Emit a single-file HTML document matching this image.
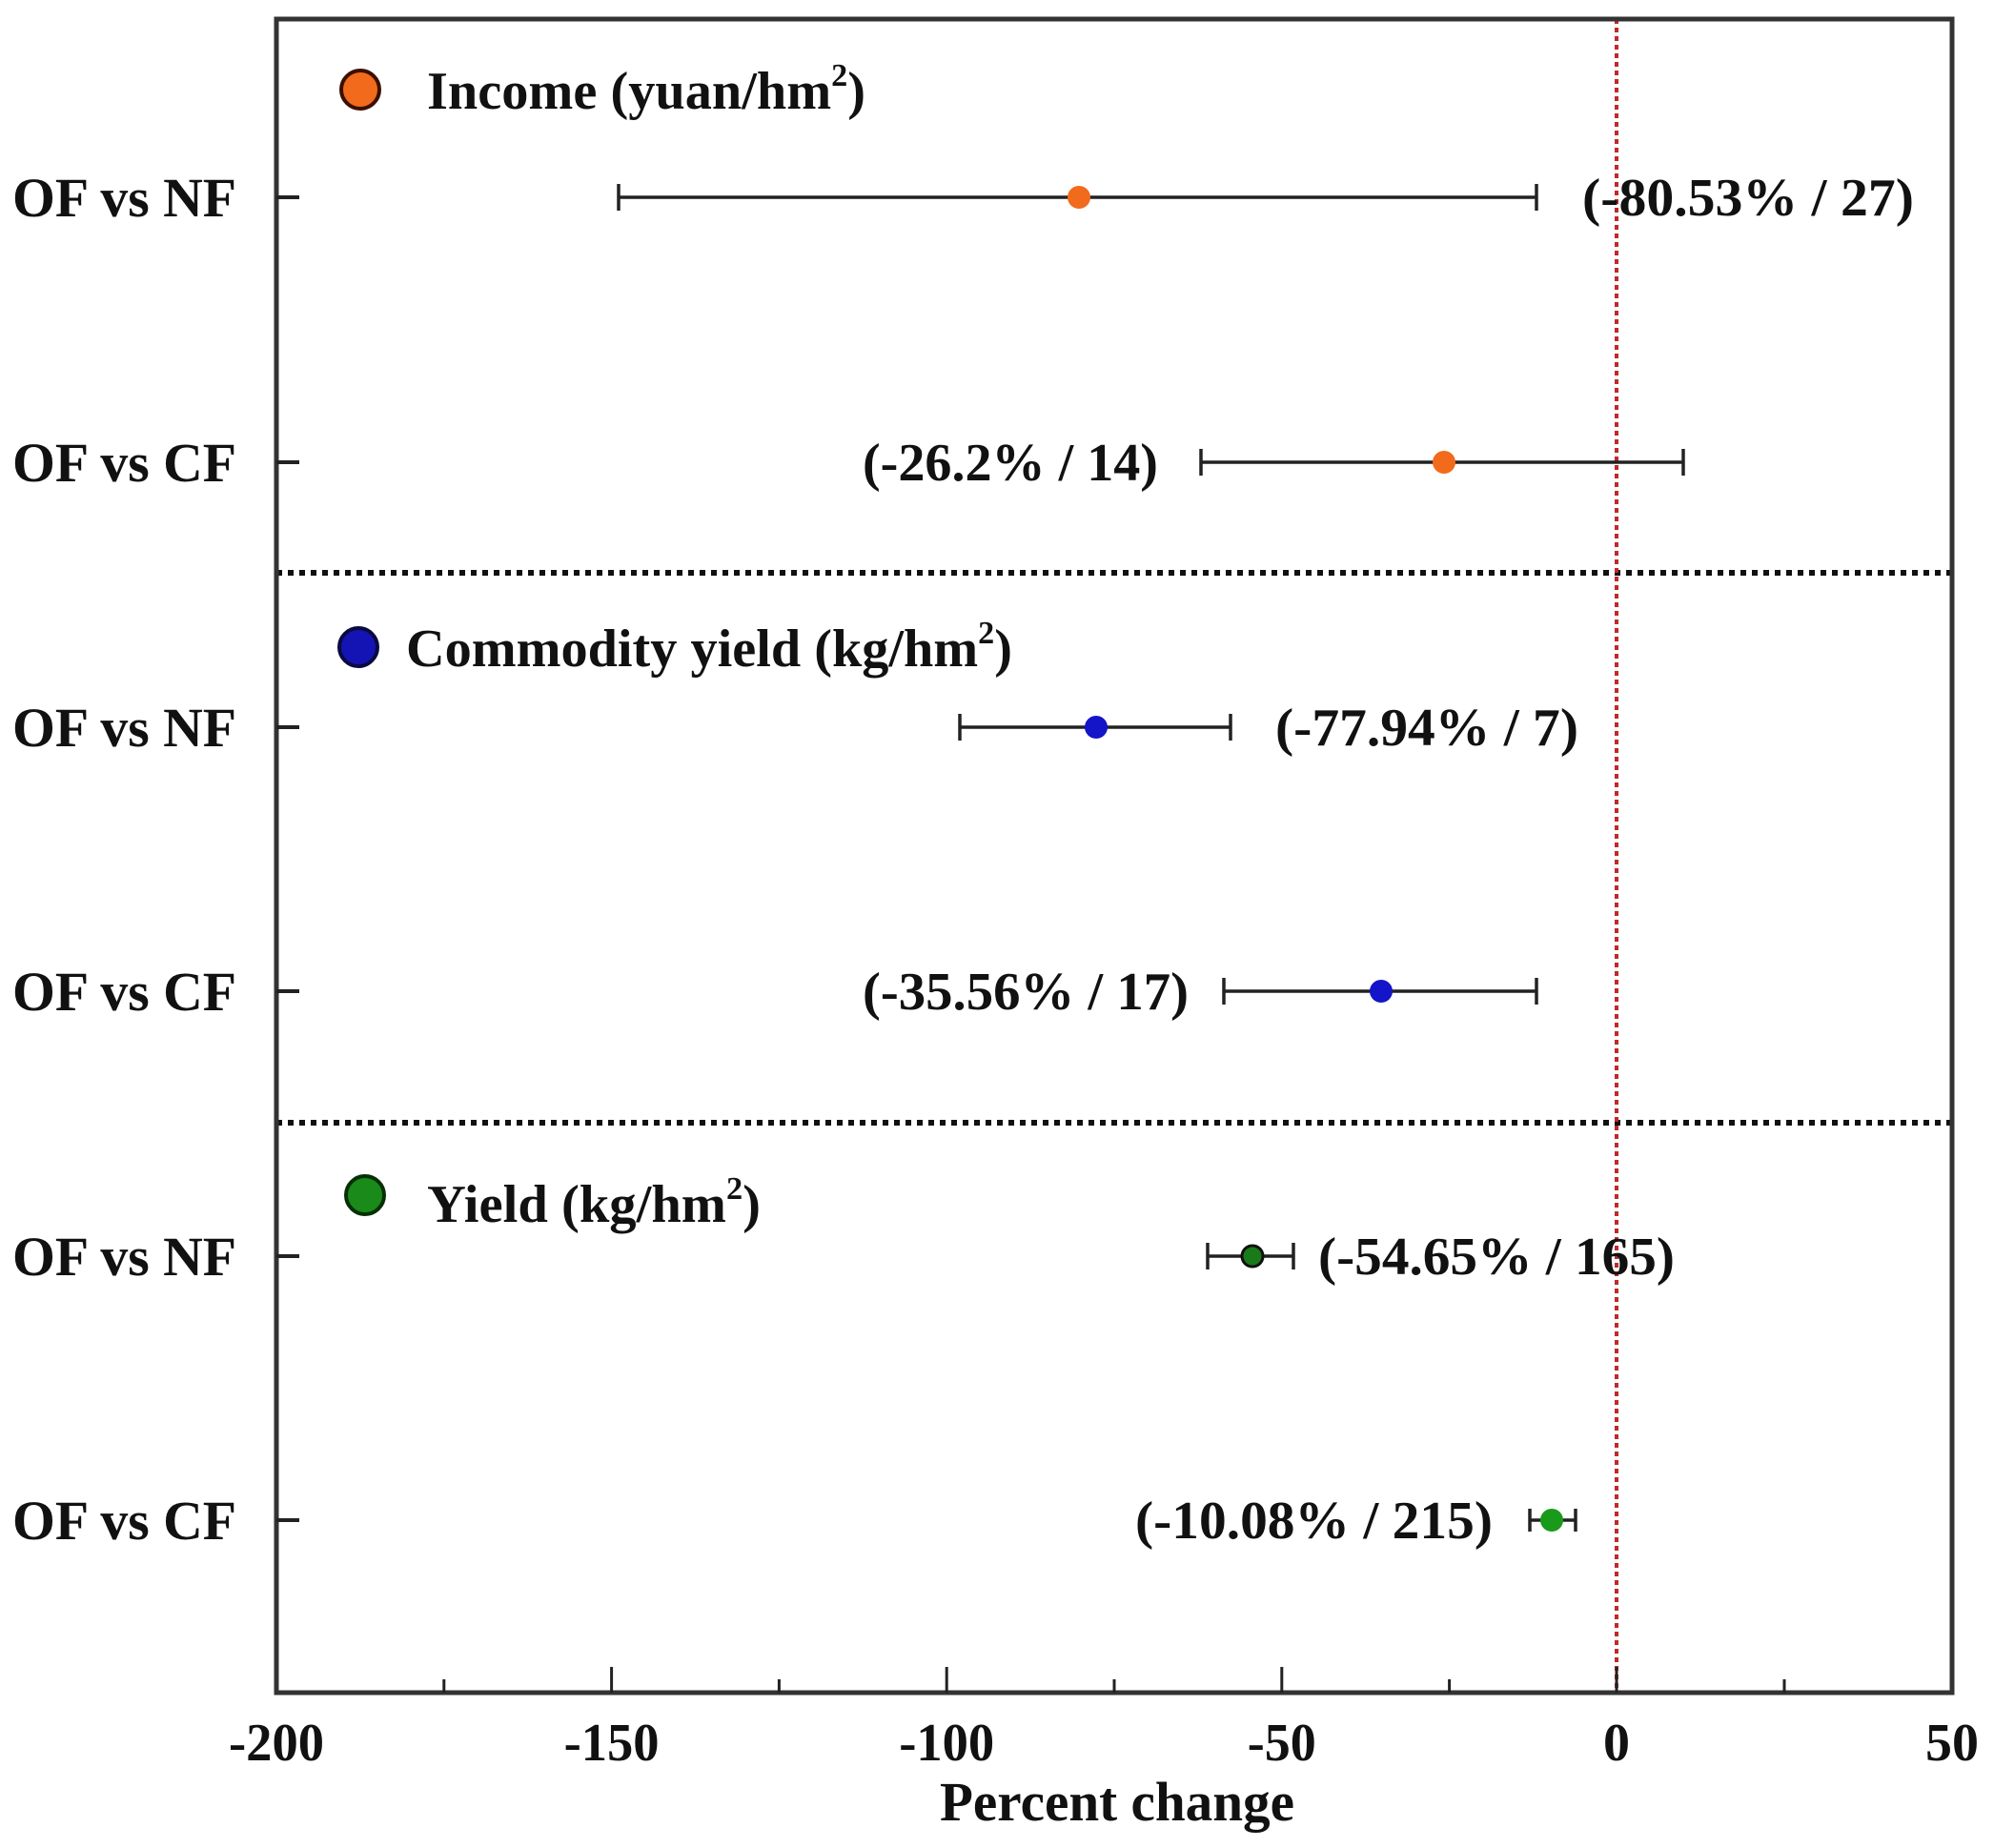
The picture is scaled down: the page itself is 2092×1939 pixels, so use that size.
<!DOCTYPE html>
<html><head><meta charset="utf-8"><style>
html,body{margin:0;padding:0;background:#fff}
svg text{font-family:"Liberation Serif",serif;font-weight:bold;fill:#111}
</style></head><body>
<svg width="2092" height="1934" viewBox="0 0 2092 1934" xmlns="http://www.w3.org/2000/svg">
<rect width="2092" height="1934" fill="#fff"/>
<line x1="290" y1="601" x2="2048" y2="601" stroke="#111" stroke-width="6" stroke-dasharray="6,6"/>
<line x1="290" y1="1178" x2="2048" y2="1178" stroke="#111" stroke-width="6" stroke-dasharray="6,6"/>
<line x1="1696" y1="20" x2="1696" y2="1776" stroke="#c0282a" stroke-width="4" stroke-dasharray="5,4"/>
<rect x="290" y="20" width="1758" height="1756" fill="none" stroke="#333" stroke-width="5"/>
<g stroke="#222" stroke-width="4">
<line x1="290" y1="207" x2="314" y2="207"/><line x1="290" y1="485" x2="314" y2="485"/>
<line x1="290" y1="763" x2="314" y2="763"/><line x1="290" y1="1040" x2="314" y2="1040"/>
<line x1="290" y1="1318" x2="314" y2="1318"/><line x1="290" y1="1595" x2="314" y2="1595"/>
</g>
<g stroke="#222" stroke-width="3">
<line x1="641.6" y1="1776" x2="641.6" y2="1749"/><line x1="993.2" y1="1776" x2="993.2" y2="1749"/>
<line x1="1344.8" y1="1776" x2="1344.8" y2="1749"/><line x1="1696" y1="1776" x2="1696" y2="1749"/>
<line x1="465.8" y1="1776" x2="465.8" y2="1762"/><line x1="817.4" y1="1776" x2="817.4" y2="1762"/>
<line x1="1169" y1="1776" x2="1169" y2="1762"/><line x1="1520.6" y1="1776" x2="1520.6" y2="1762"/>
<line x1="1872" y1="1776" x2="1872" y2="1762"/>
</g>
<g font-size="56" text-anchor="middle">
<text x="290" y="1847" textLength="100" lengthAdjust="spacingAndGlyphs">-200</text>
<text x="641.6" y="1847" textLength="100" lengthAdjust="spacingAndGlyphs">-150</text>
<text x="993.2" y="1847" textLength="100" lengthAdjust="spacingAndGlyphs">-100</text>
<text x="1344.8" y="1847" textLength="72" lengthAdjust="spacingAndGlyphs">-50</text>
<text x="1696" y="1847">0</text>
<text x="2048" y="1847" textLength="56" lengthAdjust="spacingAndGlyphs">50</text>
</g>
<text x="1172" y="1910" font-size="58" text-anchor="middle" textLength="372" lengthAdjust="spacingAndGlyphs">Percent change</text>
<g font-size="58">
<text x="13" y="227" textLength="235" lengthAdjust="spacingAndGlyphs">OF vs NF</text>
<text x="13" y="505" textLength="235" lengthAdjust="spacingAndGlyphs">OF vs CF</text>
<text x="13" y="783" textLength="235" lengthAdjust="spacingAndGlyphs">OF vs NF</text>
<text x="13" y="1060" textLength="235" lengthAdjust="spacingAndGlyphs">OF vs CF</text>
<text x="13" y="1338" textLength="235" lengthAdjust="spacingAndGlyphs">OF vs NF</text>
<text x="13" y="1615" textLength="235" lengthAdjust="spacingAndGlyphs">OF vs CF</text>
</g>
<g stroke="#222" stroke-width="3.5">
<line x1="649" y1="207" x2="1612" y2="207"/><line x1="649" y1="193" x2="649" y2="221"/><line x1="1612" y1="193" x2="1612" y2="221"/>
<line x1="1260" y1="485" x2="1766" y2="485"/><line x1="1260" y1="471" x2="1260" y2="499"/><line x1="1766" y1="471" x2="1766" y2="499"/>
<line x1="1007" y1="763" x2="1291" y2="763"/><line x1="1007" y1="749" x2="1007" y2="777"/><line x1="1291" y1="749" x2="1291" y2="777"/>
<line x1="1284" y1="1040" x2="1612" y2="1040"/><line x1="1284" y1="1026" x2="1284" y2="1054"/><line x1="1612" y1="1026" x2="1612" y2="1054"/>
<line x1="1267" y1="1318" x2="1357" y2="1318"/><line x1="1267" y1="1304" x2="1267" y2="1332"/><line x1="1357" y1="1304" x2="1357" y2="1332"/>
<line x1="1605" y1="1595" x2="1653" y2="1595"/><line x1="1605" y1="1583" x2="1605" y2="1607"/><line x1="1653" y1="1583" x2="1653" y2="1607"/>
</g>
<circle cx="1132" cy="207" r="12" fill="#f26a1b"/>
<circle cx="1515" cy="485" r="12" fill="#f26a1b"/>
<circle cx="1150" cy="763" r="12" fill="#1414c8"/>
<circle cx="1449" cy="1040" r="12" fill="#1414c8"/>
<circle cx="1314" cy="1318" r="11" fill="#1a7a1a" stroke="#111" stroke-width="3"/>
<circle cx="1628" cy="1595" r="12" fill="#1a9a1a"/>
<g font-size="56">
<text x="1660" y="226" textLength="348" lengthAdjust="spacingAndGlyphs">(-80.53% / 27)</text>
<text x="905" y="504" textLength="310" lengthAdjust="spacingAndGlyphs">(-26.2% / 14)</text>
<text x="1338" y="782" textLength="318" lengthAdjust="spacingAndGlyphs">(-77.94% / 7)</text>
<text x="905" y="1059" textLength="342" lengthAdjust="spacingAndGlyphs">(-35.56% / 17)</text>
<text x="1383" y="1337" textLength="374" lengthAdjust="spacingAndGlyphs">(-54.65% / 165)</text>
<text x="1191" y="1614" textLength="375" lengthAdjust="spacingAndGlyphs">(-10.08% / 215)</text>
</g>
<circle cx="378" cy="94" r="20" fill="#f26a1b" stroke="#3a1000" stroke-width="4"/>
<text x="448" y="114" font-size="56" textLength="460" lengthAdjust="spacingAndGlyphs">Income (yuan/hm<tspan dy="-24" font-size="34">2</tspan><tspan dy="24">)</tspan></text>
<circle cx="376" cy="679" r="20" fill="#1414b4" stroke="#0a0a40" stroke-width="4"/>
<text x="426" y="699" font-size="56" textLength="636" lengthAdjust="spacingAndGlyphs">Commodity yield (kg/hm<tspan dy="-24" font-size="34">2</tspan><tspan dy="24">)</tspan></text>
<circle cx="383" cy="1254" r="20" fill="#1a8a1a" stroke="#063006" stroke-width="4"/>
<text x="448" y="1282" font-size="56" textLength="350" lengthAdjust="spacingAndGlyphs">Yield (kg/hm<tspan dy="-24" font-size="34">2</tspan><tspan dy="24">)</tspan></text>
</svg>
</body></html>
